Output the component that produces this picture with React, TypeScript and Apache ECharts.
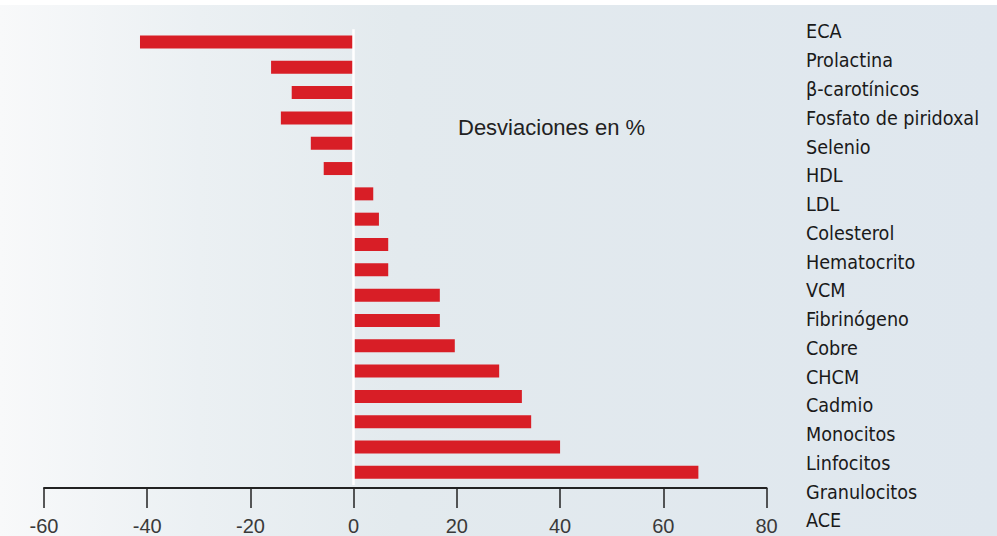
import React, { useEffect, useRef } from "react";
import * as echarts from "echarts";

const categories = [
  "ECA",
  "Prolactina",
  "β-carotínicos",
  "Fosfato de piridoxal",
  "Selenio",
  "HDL",
  "LDL",
  "Colesterol",
  "Hematocrito",
  "VCM",
  "Fibrinógeno",
  "Cobre",
  "CHCM",
  "Cadmio",
  "Monocitos",
  "Linfocitos",
  "Granulocitos",
  "ACE",
];

const deviations = [
  -41.4, -16, -12, -14.1, -8.3, -5.8, 3.8, 4.9, 6.7, 6.7, 16.7, 16.7, 19.6, 28.2, 32.6,
  34.4, 40, 66.8,
];

const xMin = -60;
const xMax = 80;
const xInterval = 20;
const title = "Desviaciones en %";

export default function App() {
  const ref = useRef<HTMLDivElement>(null);

  useEffect(() => {
    if (!ref.current) return;
    const chart = echarts.init(ref.current, null, { renderer: "svg" });
    chart.setOption({
      animation: false,
      graphic: [
        {
          type: "rect",
          z: -100,
          silent: true,
          shape: { x: 0, y: 5, width: 997, height: 531 },
          style: {
            fill: new echarts.graphic.LinearGradient(0, 0, 1, 0, [
              { offset: 0, color: "#f8f9fa" },
              { offset: 0.2, color: "#ebf0f3" },
              { offset: 0.4, color: "#e3eaee" },
              { offset: 1, color: "#dfe7ee" },
            ]),
          },
        },
        {
          type: "text",
          left: 458,
          top: 116,
          style: {
            text: title,
            fontFamily: "Liberation Sans, Arial, sans-serif",
            fontSize: 22,
            fill: "#222222",
          },
        },
      ],
      grid: [
        { left: 44, width: 722.5, top: 29.3, height: 455.9, containLabel: false },
        { left: 790, width: 10, top: 17.6, height: 517.7, containLabel: false },
      ],
      xAxis: [
        {
          type: "value",
          gridIndex: 0,
          min: xMin,
          max: xMax,
          interval: xInterval,
          offset: 3,
          axisLine: { show: true, lineStyle: { color: "#222222", width: 2 } },
          axisTick: { show: true, length: 20, lineStyle: { color: "#222222", width: 1.5 } },
          axisLabel: {
            margin: 28,
            fontFamily: "Liberation Sans, Arial, sans-serif",
            fontSize: 20,
            color: "#3a3a3a",
          },
          splitLine: { show: false },
        },
        {
          type: "value",
          gridIndex: 1,
          show: false,
        },
      ],
      yAxis: [
        {
          type: "category",
          gridIndex: 0,
          data: categories,
          inverse: true,
          show: false,
        },
        {
          type: "category",
          gridIndex: 1,
          data: categories,
          inverse: true,
          position: "right",
          axisLine: { show: false },
          axisTick: { show: false },
          axisLabel: {
            margin: 6,
            fontFamily: "DejaVu Sans Condensed, DejaVu Sans, sans-serif",
            fontSize: 19.6,
            color: "#1a1a1a",
          },
        },
      ],
      series: [
        {
          type: "bar",
          xAxisIndex: 0,
          yAxisIndex: 0,
          data: deviations,
          barWidth: 13,
          itemStyle: { color: "#d81e26" },
          markLine: {
            silent: true,
            symbol: "none",
            label: { show: false },
            lineStyle: { color: "#ffffff", width: 2.5, type: "solid" },
            data: [{ xAxis: 0 }],
          },
        },
      ],
    });
    return () => chart.dispose();
  }, []);

  return (
    <div
      ref={ref}
      style={{ position: "absolute", left: 0, top: 0, width: 997, height: 536 }}
    />
  );
}
